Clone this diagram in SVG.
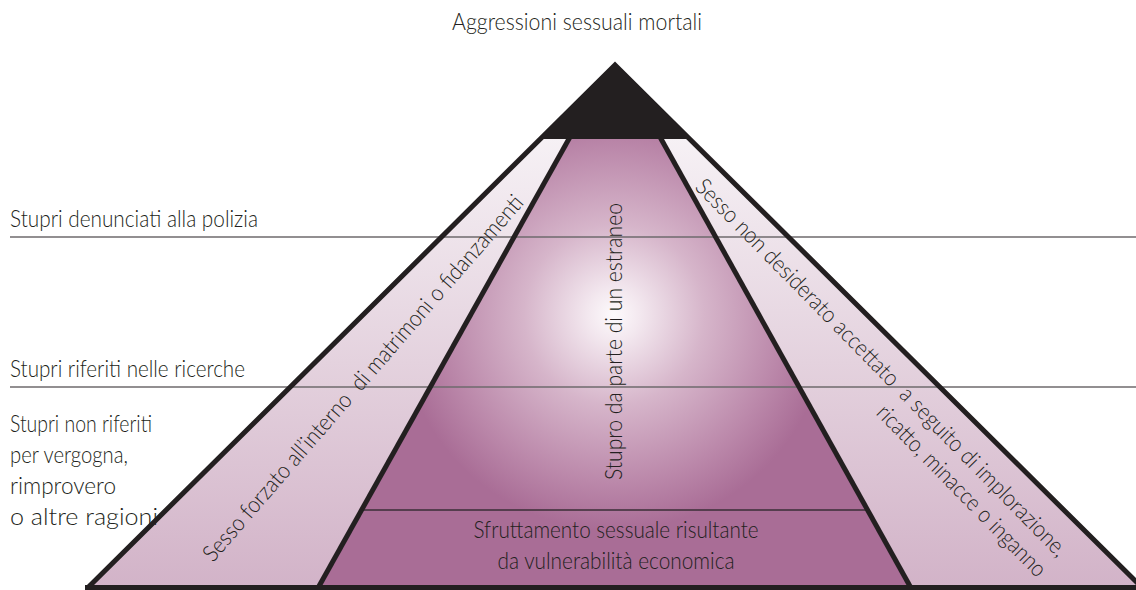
<svg xmlns="http://www.w3.org/2000/svg" width="1136" height="590" viewBox="0 0 1136 590">
  <style>
    .lbl { font-family: Lato, "Liberation Sans", "DejaVu Sans", sans-serif; font-size: 23px; font-weight: 300; fill: #231f20; }
    .thick { stroke: #231f20; stroke-width: 5; fill: none; stroke-linejoin: miter; }
    .level { stroke: #6e6a6c; stroke-width: 1.3; }
    .inner { stroke: #3a2e36; stroke-width: 1.3; }
  </style>
  <defs>
    <linearGradient id="sideGrad" gradientUnits="userSpaceOnUse" x1="0" y1="137" x2="0" y2="587">
      <stop offset="0" stop-color="#f6f1f5"/>
      <stop offset="0.5" stop-color="#e4d2de"/>
      <stop offset="1" stop-color="#d2b3c8"/>
    </linearGradient>
    <radialGradient id="centerGrad" gradientUnits="userSpaceOnUse" cx="614" cy="315" r="215">
      <stop offset="0" stop-color="#fdfafc"/>
      <stop offset="0.12" stop-color="#f3e8ef"/>
      <stop offset="0.42" stop-color="#d6b5ca"/>
      <stop offset="0.78" stop-color="#bb88aa"/>
      <stop offset="1" stop-color="#a96d96"/>
    </radialGradient>
  </defs>

  <rect width="1136" height="590" fill="#ffffff"/>

  <g id="band-sides">
    <polygon points="537,138 693,138 1143,588 87,588" fill="url(#sideGrad)"/>
  </g>

  <g id="band-center">
    <polygon points="570,137 660,137 911,587 318,587" fill="url(#centerGrad)"/>
  </g>

  <g id="levels">
    <line class="level" x1="10" y1="237" x2="1136" y2="237"/>
    <line class="level" x1="10" y1="387" x2="1136" y2="387"/>
    <line class="inner" x1="361" y1="510" x2="868" y2="510"/>
  </g>

  <g id="connectors">
    <line class="thick" x1="570" y1="137" x2="318" y2="588"/>
    <line class="thick" x1="660" y1="137" x2="911" y2="588"/>
    <path class="thick" d="M88,587.5 L615,65 L1142,587.5"/>
    <line class="thick" x1="85" y1="587.5" x2="1136" y2="587.5"/>
  </g>

  <g id="apex">
    <polygon points="615,63 539,139 691,139" fill="#231f20"/>
    <text class="lbl" x="452" y="30" textLength="250" lengthAdjust="spacingAndGlyphs">Aggressioni sessuali mortali</text>
  </g>

  <g id="level-labels">
    <text class="lbl" x="10" y="227" textLength="248" lengthAdjust="spacingAndGlyphs">Stupri denunciati alla polizia</text>
    <text class="lbl" x="10" y="377" textLength="235" lengthAdjust="spacingAndGlyphs">Stupri riferiti nelle ricerche</text>
    <text class="lbl" x="10" y="432" textLength="142" lengthAdjust="spacingAndGlyphs">Stupri non riferiti</text>
    <text class="lbl" x="10" y="463" textLength="118" lengthAdjust="spacingAndGlyphs">per vergogna,</text>
    <text class="lbl" x="10" y="494" textLength="106" lengthAdjust="spacingAndGlyphs">rimprovero</text>
    <text class="lbl" x="10" y="525" textLength="148" lengthAdjust="spacingAndGlyphs">o altre ragioni</text>
  </g>

  <g id="left-band-label">
    <text class="lbl" xml:space="preserve" transform="translate(213,563) rotate(-49.1)" x="0" y="0" textLength="476" lengthAdjust="spacingAndGlyphs">Sesso forzato all’interno  di matrimoni o fidanzamenti</text>
  </g>

  <g id="center-label">
    <text class="lbl" transform="translate(622,480) rotate(-90)" x="0" y="0" textLength="277" lengthAdjust="spacingAndGlyphs">Stupro da parte di un estraneo</text>
  </g>

  <g id="right-band-label">
    <text class="lbl" xml:space="preserve" transform="translate(694,188) rotate(45.5)" x="0" y="0" textLength="519" lengthAdjust="spacingAndGlyphs">Sesso non desiderato accettato  a seguito di implorazione,</text>
    <text class="lbl" transform="translate(694,188) rotate(45.5)" x="288" y="29" textLength="231" lengthAdjust="spacingAndGlyphs">ricatto, minacce o inganno</text>
  </g>

  <g id="bottom-label">
    <text class="lbl" x="616" y="538" text-anchor="middle" textLength="285" lengthAdjust="spacingAndGlyphs">Sfruttamento sessuale risultante</text>
    <text class="lbl" x="616" y="569" text-anchor="middle" textLength="237" lengthAdjust="spacingAndGlyphs">da vulnerabilità economica</text>
  </g>
</svg>
